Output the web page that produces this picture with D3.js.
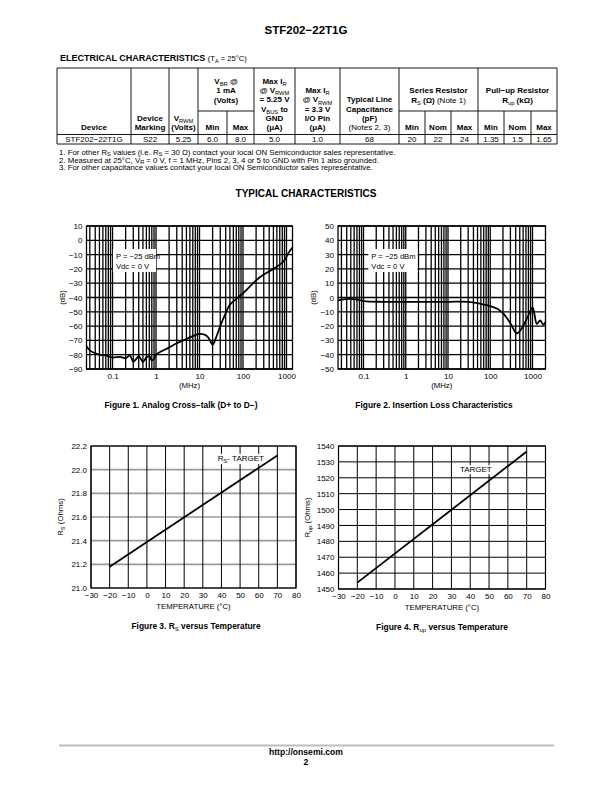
<!DOCTYPE html>
<html>
<head>
<meta charset="utf-8">
<script src="https://cdn.jsdelivr.net/npm/d3@7"></script>
<style>
  body { margin: 0; background: #fff; }
  svg { display: block; font-family: "Liberation Sans", Arial, Helvetica, sans-serif; }
</style>
</head>
<body>
<svg id="page" width="612" height="792"></svg>
<script>
// ---- table data ----
let deviceRow = ["STF202−22T1G", "S22", "5.25", "6.0", "8.0", "5.0", "1.0", "68", "20", "22", "24", "1.35", "1.5", "1.65"];
let tableNotes = [
  "1.  For other R_{S} values (i.e. R_{S} = 30 Ω) contact your local ON Semiconductor sales representative.",
  "2.  Measured at 25°C, V_{R} = 0 V, f = 1 MHz, Pins 2, 3, 4 or 5 to GND with Pin 1 also grounded.",
  "3.  For other capacitance values contact your local ON Semiconductor sales representative."
];

// ---- Figure 1: analog cross-talk ----
let xtalkFreq = [0.0252, 0.03, 0.04, 0.05, 0.07, 0.1, 0.15, 0.2, 0.25, 0.3, 0.35, 0.4, 0.5, 0.6, 0.7, 0.8, 0.9, 1,
  2, 3, 5, 7, 10, 13, 16, 20, 24, 30, 40, 50, 70, 100, 200, 300, 500, 700, 900, 1100, 1370];
let xtalkDb = [-74, -77, -79, -80, -80.5, -82, -81.5, -82.5, -80.5, -85, -83, -81, -85, -82, -81, -84, -83, -80,
  -75, -72, -69, -67, -65.5, -66, -68, -73, -68, -60, -51, -45, -41, -37, -28, -24, -20, -17, -14, -9, -5];
let xtalkTicksY = [10, 0, -10, -20, -30, -40, -50, -60, -70, -80, -90];

// ---- Figure 2: insertion loss ----
let lossFreq = [0.025, 0.05, 0.07, 0.1, 0.3, 1, 10, 30, 60, 100, 150, 200, 300, 420, 500, 600, 700, 800, 900, 1000,
  1100, 1270, 1520, 1800, 2030];
let lossDb = [-2, -1, -1.5, -2.5, -3, -3, -3, -3, -4.5, -6, -8, -11, -18, -25, -23.5, -20, -16, -12.5, -9, -7,
  -11, -18.5, -16, -19, -17];
let lossTicksY = [50, 40, 30, 20, 10, 0, -10, -20, -30, -40, -50];

let freqTicks = [0.1, 1, 10, 100, 1000];

// ---- Figures 3 and 4: resistance vs temperature ----
let tempC = [-20, 70];
let rsOhms = [21.18, 22.12];
let rupOhms = [1454, 1536.5];
let tempTicks = [-30, -20, -10, 0, 10, 20, 30, 40, 50, 60, 70, 80];
let rsTicks = [21.0, 21.2, 21.4, 21.6, 21.8, 22.0, 22.2];
let rupTicks = [1450, 1460, 1470, 1480, 1490, 1500, 1510, 1520, 1530, 1540];

let svg = d3.select("#page");

// text with _{sub} markup and ~ toggling bold/regular
function richText(sel, str, bold, size, drop) {
  let shift = 0, dd = size * (drop || 0.28);
  str.split("~").forEach(function(p, i) {
    let w = (i % 2 == 0) == bold ? "bold" : "normal";
    p.split(/(_\{[^}]*\})/).forEach(function(s) {
      if (!s) return;
      if (s.startsWith("_{")) {
        sel.append("tspan").attr("font-weight", "normal").attr("font-size", size * 0.72)
          .attr("dy", dd).text(s.slice(2, -1));
        shift = -dd;
      } else {
        let t = sel.append("tspan").attr("font-weight", w).text(s);
        if (shift) { t.attr("dy", shift); shift = 0; }
      }
    });
  });
  return sel;
}

// ---- page header ----
svg.append("text").attr("x", 306).attr("y", 34).attr("text-anchor", "middle")
  .attr("font-size", 11.5).attr("font-weight", "bold").text("STF202−22T1G");

let ttl = svg.append("text").attr("x", 60).attr("y", 61).attr("font-size", 9);
ttl.append("tspan").attr("font-weight", "bold").text("ELECTRICAL CHARACTERISTICS ");
richText(ttl.append("tspan").attr("font-size", 7.6), "(T_{A} = 25°C)", false, 7.6);

// ---- table ----
let colX = [57, 131, 169, 198, 227, 254, 295, 340, 399, 425, 451, 478, 504, 531, 557];
let rowTop = 68, rowSub = 111, rowHead = 134.5, rowBot = 144;
let tbl = svg.append("g").attr("stroke", "#000").attr("stroke-width", 0.9);
[rowTop, rowHead, rowBot].forEach(function(yy) {
  tbl.append("line").attr("x1", colX[0]).attr("x2", colX[14]).attr("y1", yy).attr("y2", yy);
});
[[3, 5], [8, 11], [11, 14]].forEach(function(s) {
  tbl.append("line").attr("x1", colX[s[0]]).attr("x2", colX[s[1]]).attr("y1", rowSub).attr("y2", rowSub);
});
colX.forEach(function(cx, i) {
  let short = [4, 9, 10, 12, 13].indexOf(i) >= 0;
  tbl.append("line").attr("x1", cx).attr("x2", cx).attr("y1", short ? rowSub : rowTop).attr("y2", rowBot);
});

let headCells = [
  {c: [0, 1], base: 130, lines: ["Device"]},
  {c: [1, 2], base: 130, lines: ["Device", "Marking"]},
  {c: [2, 3], base: 130, lines: ["V_{RWM}", "(Volts)"]},
  {c: [3, 5], base: 102.5, lines: ["V_{BR} @", "1 mA", "(Volts)"]},
  {c: [3, 4], base: 130, lines: ["Min"]},
  {c: [4, 5], base: 130, lines: ["Max"]},
  {c: [5, 6], base: 130, lines: ["Max I_{R}", "@ V_{RWM}", "= 5.25 V", "V_{BUS} to", "GND", "(μA)"]},
  {c: [6, 7], base: 130, lines: ["Max I_{R}", "@ V_{RWM}", "= 3.3 V", "I/O Pin", "(μA)"]},
  {c: [7, 8], base: 130, lines: ["Typical Line", "Capacitance", "(pF)", "~(Notes 2, 3)"]},
  {c: [8, 11], base: 102.5, lines: ["Series Resistor", "R_{S} (Ω) ~(Note 1)"]},
  {c: [8, 9], base: 130, lines: ["Min"]},
  {c: [9, 10], base: 130, lines: ["Nom"]},
  {c: [10, 11], base: 130, lines: ["Max"]},
  {c: [11, 14], base: 102.5, lines: ["Pull−up Resistor", "R_{up} (kΩ)"]},
  {c: [11, 12], base: 130, lines: ["Min"]},
  {c: [12, 13], base: 130, lines: ["Nom"]},
  {c: [13, 14], base: 130, lines: ["Max"]}
];
headCells.forEach(function(h) {
  let cx = (colX[h.c[0]] + colX[h.c[1]]) / 2;
  let n = h.lines.length;
  h.lines.forEach(function(l, i) {
    let t = svg.append("text").attr("x", cx).attr("y", h.base - (n - 1 - i) * 9.2)
      .attr("text-anchor", "middle").attr("font-size", 8);
    richText(t, l, true, 8);
  });
});
deviceRow.forEach(function(v, i) {
  svg.append("text").attr("x", (colX[i] + colX[i + 1]) / 2).attr("y", 142)
    .attr("text-anchor", "middle").attr("font-size", 8).text(v);
});
tableNotes.forEach(function(n, i) {
  let t = svg.append("text").attr("x", 59).attr("y", 155 + i * 7.6).attr("font-size", 7.8);
  richText(t, n, false, 7.8, 0.14);
});

svg.append("text").attr("x", 306).attr("y", 197).attr("text-anchor", "middle")
  .attr("font-size", 10).attr("font-weight", "bold").text("TYPICAL CHARACTERISTICS");

function fmtNum(v) { return String(v).replace("-", "−"); }

// ---- log frequency charts ----
function logChart(cfg) {
  let g = svg.append("g");
  let x = d3.scaleLog().domain(cfg.xDomain).range([cfg.x0, cfg.x1]);
  let y = d3.scaleLinear().domain(d3.extent(cfg.yTicks)).range([cfg.y1, cfg.y0]);
  let grid = g.append("g").attr("stroke", "#000").attr("stroke-width", 1.3);
  x.ticks().filter(function(v) { return x(v) > cfg.x0 + 1 && x(v) < cfg.x1 - 1; }).forEach(function(v) {
    grid.append("line").attr("x1", x(v)).attr("x2", x(v)).attr("y1", cfg.y0).attr("y2", cfg.y1);
  });
  cfg.yTicks.forEach(function(v) {
    grid.append("line").attr("x1", cfg.x0).attr("x2", cfg.x1).attr("y1", y(v)).attr("y2", y(v));
  });
  // annotation box
  let bx0 = x(cfg.box[0]), bx1 = x(cfg.box[1]);
  g.append("rect").attr("x", bx0).attr("y", 249).attr("width", bx1 - bx0).attr("height", 23).attr("fill", "#fff");
  g.append("text").attr("x", bx0 + 3).attr("y", 259).attr("font-size", 7.6).text("P = −25 dBm");
  g.append("text").attr("x", bx0 + 3).attr("y", 269).attr("font-size", 7.6).text("Vdc = 0 V");
  g.append("rect").attr("x", cfg.x0).attr("y", cfg.y0).attr("width", cfg.x1 - cfg.x0).attr("height", cfg.y1 - cfg.y0)
    .attr("fill", "none").attr("stroke", "#000").attr("stroke-width", 1.3);

  let line = d3.line().x(function(d) { return x(d[0]); }).y(function(d) { return y(d[1]); }).curve(d3.curveCatmullRom);
  g.append("path").datum(d3.zip(cfg.freq, cfg.db)).attr("d", line)
    .attr("fill", "none").attr("stroke", "#000").attr("stroke-width", 1.8);

  let ya = g.append("g").attr("transform", "translate(" + cfg.x0 + ",0)")
    .call(d3.axisLeft(y).tickValues(cfg.yTicks).tickSize(0).tickPadding(4).tickFormat(fmtNum));
  let xa = g.append("g").attr("transform", "translate(0," + cfg.y1 + ")")
    .call(d3.axisBottom(x).tickValues(freqTicks).tickSize(0).tickPadding(4).tickFormat(function(v) { return String(v); }));
  [ya, xa].forEach(function(a) {
    a.select(".domain").remove();
    a.selectAll("text").attr("font-size", 8).attr("font-family", null).attr("fill", "#000");
  });
  g.append("text").attr("x", (cfg.x0 + cfg.x1) / 2).attr("y", cfg.y1 + 19).attr("text-anchor", "middle")
    .attr("font-size", 7.8).text("(MHz)");
  g.append("text").attr("transform", "translate(" + (cfg.x0 - 22) + "," + (cfg.y0 + cfg.y1) / 2 + ") rotate(-90)")
    .attr("text-anchor", "middle").attr("font-size", 7.8).text("(dB)");
  g.append("text").attr("x", cfg.capX).attr("y", cfg.y1 + 39).attr("text-anchor", "middle")
    .attr("font-size", 8.4).attr("font-weight", "bold").text(cfg.caption);
}

logChart({x0: 86.5, x1: 292.5, y0: 226, y1: 369, xDomain: [0.0252, 1374], yTicks: xtalkTicksY,
  freq: xtalkFreq, db: xtalkDb, box: [0.102, 1.0], capX: 181,
  caption: "Figure 1. Analog Cross−talk (D+ to D−)"});
logChart({x0: 338, x1: 545.5, y0: 226, y1: 369, xDomain: [0.0249, 2031], yTicks: lossTicksY,
  freq: lossFreq, db: lossDb, box: [0.13, 1.9], capX: 434,
  caption: "Figure 2. Insertion Loss Characteristics"});

// ---- temperature charts ----
function tempChart(cfg) {
  let g = svg.append("g");
  let x = d3.scaleLinear().domain(d3.extent(tempTicks)).range([cfg.x0, cfg.x1]);
  let y = d3.scaleLinear().domain(d3.extent(cfg.yTicks)).range([cfg.y1, cfg.y0]);
  cfg.yTicks.forEach(function(v) {
    g.append("line").attr("x1", cfg.x0).attr("x2", cfg.x1).attr("y1", y(v)).attr("y2", y(v))
      .attr("stroke", cfg.hColor).attr("stroke-width", cfg.hWidth);
  });
  tempTicks.forEach(function(v) {
    g.append("line").attr("x1", x(v)).attr("x2", x(v)).attr("y1", cfg.y0).attr("y2", cfg.y1)
      .attr("stroke", "#000").attr("stroke-width", 1);
  });
  g.append("rect").attr("x", cfg.x0).attr("y", cfg.y0).attr("width", cfg.x1 - cfg.x0).attr("height", cfg.y1 - cfg.y0)
    .attr("fill", "none").attr("stroke", "#000").attr("stroke-width", 1.2);
  // label
  let lb = g.append("text").attr("x", x(cfg.labelAt[0])).attr("y", y(cfg.labelAt[1])).attr("font-size", 8);
  richText(lb, cfg.label, false, 8);
  let bb = lb.node().getBBox();
  g.insert("rect", "text").attr("x", bb.x - 1.5).attr("y", bb.y).attr("width", bb.width + 3).attr("height", bb.height)
    .attr("fill", "#fff");

  let line = d3.line().x(function(d) { return x(d[0]); }).y(function(d) { return y(d[1]); });
  g.append("path").datum(d3.zip(tempC, cfg.vals)).attr("d", line)
    .attr("fill", "none").attr("stroke", "#000").attr("stroke-width", 1.8);

  let ya = g.append("g").attr("transform", "translate(" + cfg.x0 + ",0)")
    .call(d3.axisLeft(y).tickValues(cfg.yTicks).tickSize(0).tickPadding(4).tickFormat(cfg.yFmt));
  let xa = g.append("g").attr("transform", "translate(0," + cfg.y1 + ")")
    .call(d3.axisBottom(x).tickValues(tempTicks).tickSize(0).tickPadding(4).tickFormat(fmtNum));
  [ya, xa].forEach(function(a) {
    a.select(".domain").remove();
    a.selectAll("text").attr("font-size", 8).attr("font-family", null).attr("fill", "#000");
  });
  g.append("text").attr("x", (cfg.x0 + cfg.x1) / 2).attr("y", cfg.y1 + 21).attr("text-anchor", "middle")
    .attr("font-size", 7.8).text("TEMPERATURE (°C)");
  let yt = g.append("text").attr("transform", "translate(" + (cfg.x0 - cfg.yTitleOff) + "," + (cfg.y0 + cfg.y1) / 2 + ") rotate(-90)")
    .attr("text-anchor", "middle").attr("font-size", 7.8);
  richText(yt, cfg.yTitle, false, 7.8);
  let cp = g.append("text").attr("x", cfg.capX).attr("y", cfg.y1 + 41).attr("text-anchor", "middle").attr("font-size", 8.4);
  richText(cp, cfg.caption, true, 8.4);
}

tempChart({x0: 91, x1: 296, y0: 446, y1: 588, yTicks: rsTicks, vals: rsOhms, hColor: "#9a9a9a", hWidth: 1.6,
  yFmt: d3.format(".1f"), yTitle: "R_{S} (Ohms)", yTitleOff: 28, label: "R_{S}- TARGET", labelAt: [38, 22.075],
  capX: 196, caption: "Figure 3. R_{S} versus Temperature"});
tempChart({x0: 338.5, x1: 545.5, y0: 446, y1: 589, yTicks: rupTicks, vals: rupOhms, hColor: "#000", hWidth: 1,
  yFmt: d3.format("d"), yTitle: "R_{up} (Ohms)", yTitleOff: 29, label: "TARGET", labelAt: [34.5, 1523.5],
  capX: 442, caption: "Figure 4. R_{up} versus Temperature"});

// ---- footer ----
svg.append("line").attr("x1", 59).attr("x2", 554).attr("y1", 745.5).attr("y2", 745.5)
  .attr("stroke", "#bdbdbd").attr("stroke-width", 2);
svg.append("text").attr("x", 306).attr("y", 755).attr("text-anchor", "middle").attr("font-size", 8.6)
  .attr("font-weight", "bold").text("http://onsemi.com");
svg.append("text").attr("x", 306).attr("y", 765).attr("text-anchor", "middle").attr("font-size", 8.6)
  .attr("font-weight", "bold").text("2");
</script>
</body>
</html>
